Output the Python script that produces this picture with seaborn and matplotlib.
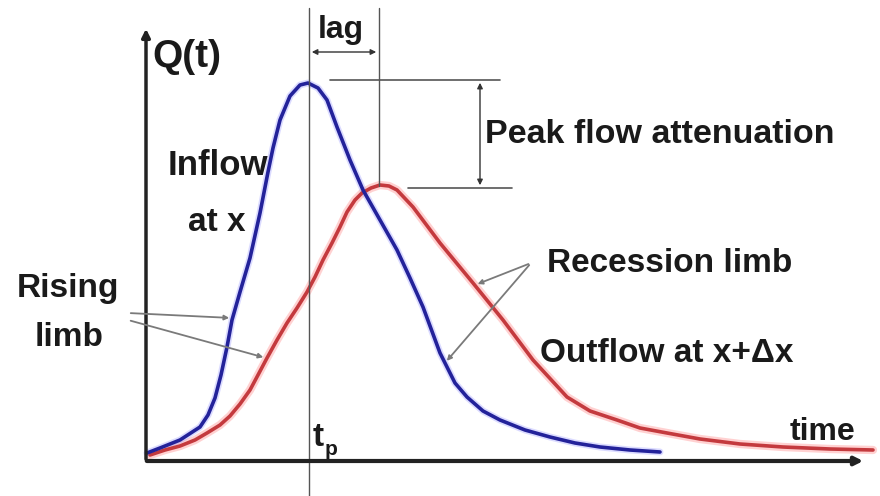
import numpy as np
import pandas as pd
import matplotlib.pyplot as plt
import seaborn as sns

# curves (pixel-like coordinates, y grows downward)
inflow_t = [147, 160, 180, 200, 208, 215, 221, 227, 232, 240, 250, 260, 268, 273,
            280, 290, 300, 308, 318, 327, 337, 350, 363, 380, 397, 410, 423, 440,
            455, 467, 483, 500, 525, 550, 575, 600, 630, 660]
inflow_q = [453, 448, 440, 427, 415, 398, 375, 347, 320, 292, 258, 213, 172, 148,
            120, 96, 85, 83, 88, 100, 127, 160, 190, 220, 250, 278, 307, 353,
            383, 397, 411, 420, 430, 437, 443, 447, 450, 452]
outflow_t = [150, 165, 180, 195, 207, 220, 230, 240, 250, 258, 267, 277, 287, 297,
             307, 315, 323, 332, 340, 347, 355, 362, 371, 380, 389, 397, 413, 440,
             473, 503, 533, 567, 590, 617, 640, 667, 700, 740, 783, 830, 873]
outflow_q = [455, 450, 446, 440, 433, 425, 416, 404, 390, 375, 358, 340, 323, 308,
             292, 277, 260, 243, 227, 212, 200, 193, 188, 185, 186, 190, 207, 243,
             283, 320, 360, 397, 411, 420, 428, 433, 439, 444, 447, 449, 450]

font = ['Liberation Sans', 'DejaVu Sans']


def draw():
    sns.set_style("white")
    plt.rcParams['font.family'] = font
    fig = plt.figure(figsize=(8.8, 4.96), dpi=100)
    ax = fig.add_axes([0, 0, 1, 1])
    ax.set_xlim(0, 880)
    ax.set_ylim(496, 0)
    ax.axis('off')

    df_in = pd.DataFrame({'t': inflow_t, 'q': inflow_q})
    df_out = pd.DataFrame({'t': outflow_t, 'q': outflow_q})
    # soft halo like the blurred original
    sns.lineplot(data=df_out, x='t', y='q', ax=ax, color='#ff9a9a', lw=6, alpha=0.45, sort=False)
    sns.lineplot(data=df_in, x='t', y='q', ax=ax, color='#9a9aff', lw=5, alpha=0.35, sort=False)
    sns.lineplot(data=df_out, x='t', y='q', ax=ax, color='#c43a3e', lw=2.6, sort=False)
    sns.lineplot(data=df_in, x='t', y='q', ax=ax, color='#23229a', lw=2.6, sort=False)
    ax.set_xlabel('')
    ax.set_ylabel('')

    # axes
    ax.annotate('', xy=(146, 26), xytext=(146, 462),
                arrowprops=dict(arrowstyle='-|>', color='#222222', lw=2.5, mutation_scale=12))
    ax.annotate('', xy=(866, 461), xytext=(144, 461),
                arrowprops=dict(arrowstyle='-|>', color='#222222', lw=3, mutation_scale=12))

    # guide lines
    g = '#555555'
    ax.plot([309, 309], [8, 496], color=g, lw=1)
    ax.plot([379, 379], [8, 186], color=g, lw=1)
    ax.plot([330, 500], [80, 80], color=g, lw=1.2)
    ax.plot([408, 512], [188, 188], color=g, lw=1.2)
    ax.annotate('', xy=(309, 52), xytext=(379, 52),
                arrowprops=dict(arrowstyle='<|-|>', color='#333333', lw=1, mutation_scale=8))
    ax.annotate('', xy=(480, 80), xytext=(480, 188),
                arrowprops=dict(arrowstyle='<|-|>', color='#333333', lw=1, mutation_scale=8))

    # pointer lines
    p = '#7a7a7a'
    ax.annotate('', xy=(232, 318), xytext=(128, 313),
                arrowprops=dict(arrowstyle='-|>', color=p, lw=1.3, mutation_scale=7))
    ax.annotate('', xy=(266, 358), xytext=(128, 320),
                arrowprops=dict(arrowstyle='-|>', color=p, lw=1.3, mutation_scale=7))
    ax.annotate('', xy=(475, 285), xytext=(531, 263),
                arrowprops=dict(arrowstyle='-|>', color=p, lw=1.3, mutation_scale=7))
    ax.annotate('', xy=(445, 363), xytext=(531, 263),
                arrowprops=dict(arrowstyle='-|>', color=p, lw=1.3, mutation_scale=7))

    kw = dict(color='#1a1a1a', fontweight='bold', va='baseline', ha='left')
    ax.text(152, 67, 'Q(t)', fontsize=28, **kw)
    ax.text(318, 38, 'lag', fontsize=23, **kw)
    ax.text(485, 143, 'Peak flow attenuation', fontsize=24.5, **kw)
    ax.text(168, 175, 'Inflow', fontsize=25, **kw)
    ax.text(188, 231, 'at x', fontsize=24, **kw)
    ax.text(17, 297, 'Rising', fontsize=24, **kw)
    ax.text(35, 346, 'limb', fontsize=24, **kw)
    ax.text(547, 272, 'Recession limb', fontsize=24, **kw)
    ax.text(540, 362, 'Outflow at x+\u0394x', fontsize=24, **kw)
    ax.text(790, 440, 'time', fontsize=23, **kw)
    ax.text(313, 446, 't', fontsize=24, **kw)
    ax.text(325, 455, 'p', fontsize=15, **kw)

    fig.savefig('out.png', dpi=100)


if __name__ == '__main__':
    draw()
